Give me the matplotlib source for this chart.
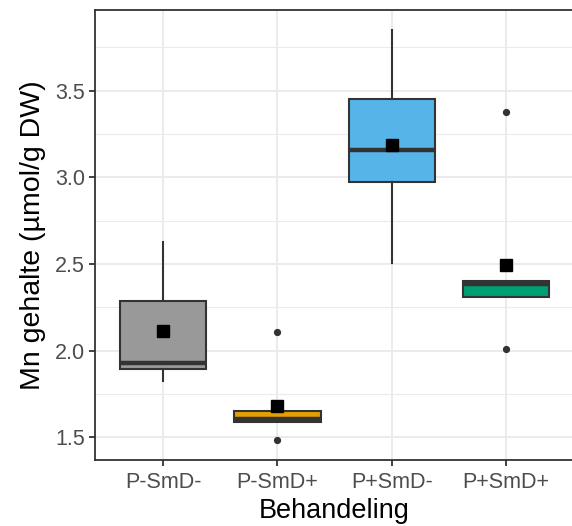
import matplotlib
matplotlib.use("Agg")
import matplotlib.pyplot as plt
from matplotlib.ticker import MultipleLocator

plt.rcParams['font.family'] = ['Liberation Sans', 'DejaVu Sans']

# waarden
behandeling = ["P-SmD-", "P-SmD+", "P+SmD-", "P+SmD+"]
q1 = [1.894, 1.588, 2.973, 2.307]
mediaan = [1.930, 1.604, 3.158, 2.386]
q3 = [2.284, 1.653, 3.452, 2.404]
whis_laag = [1.823, 1.588, 2.506, 2.307]
whis_hoog = [2.629, 1.653, 3.848, 2.404]
gemiddelde = [2.111, 1.678, 3.188, 2.496]
uitschieters = [[], [2.105, 1.486], [], [3.375, 2.011]]
kleuren = ["#999999", "#E69F00", "#56B4E9", "#009E73"]

rand = "#333333"

fig = plt.figure(figsize=(5.72, 5.26), dpi=100)
ax = fig.add_axes([94.5 / 572, 1 - 460 / 526, (574.5 - 94.5) / 572, 450 / 526])

stats = []
for i in range(len(behandeling)):
    stats.append(dict(label=behandeling[i], q1=q1[i], med=mediaan[i], q3=q3[i],
                      whislo=whis_laag[i], whishi=whis_hoog[i],
                      mean=gemiddelde[i], fliers=uitschieters[i]))

pos = list(range(1, len(behandeling) + 1))
bp = ax.bxp(stats, positions=pos, widths=0.755, patch_artist=True,
            showcaps=False, showmeans=True,
            boxprops=dict(edgecolor=rand, linewidth=1.5),
            whiskerprops=dict(color=rand, linewidth=1.5),
            medianprops=dict(color=rand, linewidth=3.2, solid_capstyle='butt'),
            flierprops=dict(marker='o', markersize=4.2, markerfacecolor=rand,
                            markeredgecolor=rand),
            meanprops=dict(marker='s', markersize=9.2, markerfacecolor='black',
                           markeredgecolor='black'))
for patch, kl in zip(bp['boxes'], kleuren):
    patch.set_facecolor(kl)
    patch.set_zorder(2)

ax.set_xlim(0.4, 4.6)
ax.set_ylim(1.369, 3.966)
ax.yaxis.set_major_locator(MultipleLocator(0.5))
ax.yaxis.set_minor_locator(MultipleLocator(0.25))
ax.set_xticks(pos)
ax.set_xticklabels(behandeling)

ax.grid(which='major', color='#EBEBEB', linewidth=1.4, zorder=0)
ax.grid(which='minor', axis='y', color='#EBEBEB', linewidth=0.8, zorder=0)
ax.set_axisbelow(True)
ax.tick_params(axis='both', which='major', length=4, width=1.3, color=rand,
               labelcolor='#4D4D4D', labelsize=15.5, pad=3)
ax.tick_params(axis='x', which='major', pad=5)
ax.tick_params(axis='y', which='minor', length=0)
for s in ax.spines.values():
    s.set_color(rand)
    s.set_linewidth(1.3)
# rechterrand valt buiten het beeld
ax.spines['right'].set_visible(False)

ax.set_xlabel("Behandeling", fontsize=19.5, labelpad=3)
ax.set_ylabel("Mn gehalte (µmol/g DW)", fontsize=20.5, labelpad=6)

fig.savefig("out.png", dpi=100)
